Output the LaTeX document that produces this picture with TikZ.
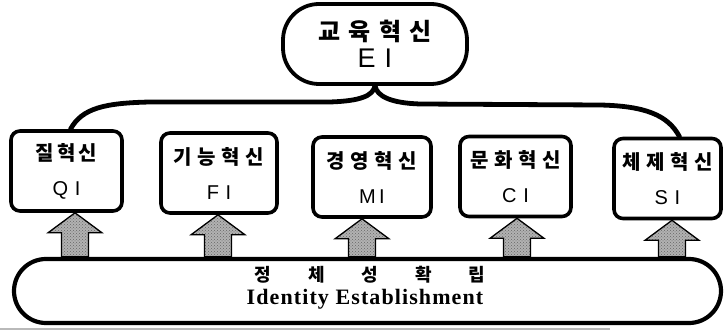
\documentclass[tikz,border=0pt]{standalone}
\usepackage{fontspec}
\setmainfont{Liberation Sans}
\newfontfamily\kr{Noto Sans CJK KR}
\newfontfamily\krtop[LetterSpace=34]{Noto Sans CJK KR}
\newfontfamily\krbox[LetterSpace=28]{Noto Sans CJK KR}
\newfontfamily\krq[LetterSpace=16]{Noto Sans CJK KR}
\newfontfamily\serifb[LetterSpace=5]{Liberation Serif}
\usetikzlibrary{patterns,calc}
\begin{document}
\begin{tikzpicture}[x=1pt,y=-1pt,
  topnode/.style={draw, line width=3.8pt, rounded corners=36pt, minimum width=184pt, minimum height=80pt, align=center, inner sep=0pt},
  box/.style={draw, line width=3.6pt, rounded corners=9pt, align=center, inner sep=0pt, minimum height=80pt,
     font={\fontsize{20}{35}\selectfont}},
  bar/.style={draw, line width=4.2pt, rounded corners=32pt, minimum width=707pt, minimum height=64pt, inner sep=0pt},
  brace/.style={line width=4.8pt, line cap=round},
  blk/.style={draw=black, line width=1.3pt, line join=miter, preaction={fill=gray!60}, pattern=crosshatch dots, pattern color=black!60}
]
\useasboundingbox (0,0) rectangle (724,331);

% top node
\node[topnode] (top) at (375,44) {{\krtop\bfseries\fontsize{24}{30}\selectfont 교육혁신}\\[5pt]{\fontsize{27}{30}\selectfont E\,\,I}};

% boxes
\node[box, minimum width=111pt] (b1) at (66.5,171) {{\krq\bfseries 질혁신}\\{\fontsize{20}{35}\selectfont Q\,\,I}};
\node[box, minimum width=116pt] (b2) at (219,173) {{\krbox\bfseries 기능혁신}\\{\fontsize{20}{35}\selectfont F\,\,I}};
\node[box, minimum width=118pt] (b3) at (372,177) {{\krbox\bfseries 경영혁신}\\{\fontsize{20}{35}\selectfont M\,I}};
\node[box, minimum width=111pt] (b4) at (515.5,176.5) {{\krbox\bfseries 문화혁신}\\{\fontsize{20}{35}\selectfont C\,\,I}};
\node[box, minimum width=107pt] (b5) at (667.5,178.5) {{\krbox\bfseries 체제혁신}\\{\fontsize{20}{35}\selectfont S\,\,I}};

% bottom bar
\node[bar] (bar) at (367.5,291) {};
\node (kbar) at (370,275) {\kr\bfseries\fontsize{18}{20}\selectfont 정\hspace{37pt}체\hspace{37pt}성\hspace{37pt}확\hspace{37pt}립};
\node (ebar) at (365,299) {\serifb\bfseries\fontsize{22}{24}\selectfont Identity Establishment};

% brace
\draw[brace] ([xshift=4pt]b1.north) .. controls (82,108) and (105,103) .. (150,102) -- (330,102) .. controls (360,101) and (373,96) .. (top.south);
\draw[brace] (top.south) .. controls (377,96) and (390,103) .. (420,104) -- (600,105) .. controls (645,106) and (668,115) .. ([xshift=12pt]b5.north);

% block arrows
\foreach \b/\s in {b1/8.5, b2/-1, b3/-10, b4/1.5, b5/4.5}{
  \draw[blk] ([xshift=\s pt]\b.south) -- ++(27,20) -- ++(-13.5,0) coordinate (r) -- (r |- bar.north) -- ++(-27,0) coordinate (l) -- (l |- r) -- ++(-13.5,0) -- cycle;
}

% scan line at bottom
\draw[gray!55, line width=1.5pt] (0,329) -- (610,329);
\end{tikzpicture}
\end{document}
